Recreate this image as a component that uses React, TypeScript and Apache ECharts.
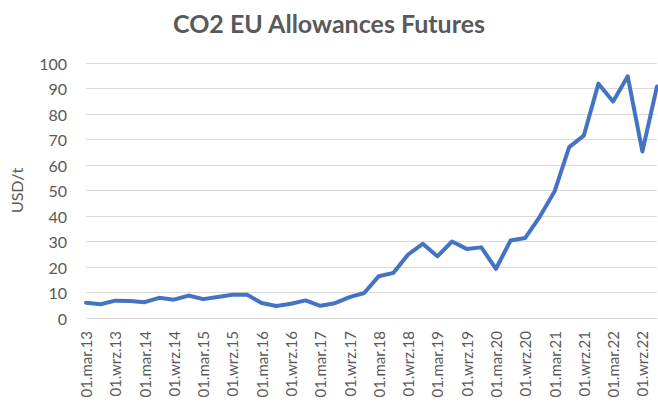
import React, { useEffect, useRef } from "react";
import * as echarts from "echarts";

const titleText = "CO2 EU Allowances Futures";
const yAxisName = "USD/t";
const years = ["13", "14", "15", "16", "17", "18", "19", "20", "21", "22"];
const months = ["mar", "cze", "wrz", "gru"];
const categories: string[] = years.flatMap((y) => months.map((m) => `01.${m}.${y}`));
const prices = [
  6.0, 5.4, 6.8, 6.7, 6.2, 7.9, 7.2, 8.8, 7.4, 8.2,
  9.1, 9.1, 5.9, 4.7, 5.6, 6.9, 4.8, 5.8, 8.2, 9.8,
  16.4, 17.7, 24.9, 29.1, 24.2, 30.0, 27.1, 27.7, 19.3, 30.4,
  31.4, 39.8, 49.6, 67.0, 71.5, 91.9, 84.9, 94.8, 65.3, 90.8,
];
const yMin = 0;
const yMax = 100;
const yStep = 10;

export default function App() {
  const ref = useRef<HTMLDivElement>(null);
  useEffect(() => {
    if (!ref.current) return;
    const chart = echarts.init(ref.current, undefined, { renderer: "svg" });
    const textColor = "#595959";
    const font = "Lato, 'Open Sans', sans-serif";
    chart.setOption({
      animation: false,
      backgroundColor: "#ffffff",
      title: {
        text: titleText,
        left: "center",
        top: 5,
        textStyle: { color: textColor, fontFamily: font, fontWeight: "bold", fontSize: 25 },
      },
      grid: { left: 72, right: 1, top: 63, bottom: 86, containLabel: false },
      xAxis: {
        type: "category",
        data: categories,
        boundaryGap: false,
        axisLine: { show: true, lineStyle: { color: "#d9d9d9", width: 1 } },
        axisTick: { show: false },
        axisLabel: {
          interval: 1,
          rotate: 90,
          margin: 13,
          color: textColor,
          fontFamily: font,
          fontSize: 15,
        },
        splitLine: { show: false },
      },
      yAxis: {
        type: "value",
        min: yMin,
        max: yMax,
        interval: yStep,
        name: yAxisName,
        nameLocation: "middle",
        nameRotate: 90,
        nameGap: 62,
        nameTextStyle: { color: textColor, fontFamily: font, fontSize: 16 },
        axisLine: { show: false },
        axisTick: { show: false },
        axisLabel: { margin: 19, color: textColor, fontFamily: font, fontSize: 16 },
        splitLine: { show: true, lineStyle: { color: "#d9d9d9", width: 1 } },
      },
      series: [
        {
          type: "line",
          data: prices,
          showSymbol: false,
          symbol: "none",
          lineStyle: { color: "#4472c4", width: 4, cap: "round", join: "round" },
        },
      ],
    });
    return () => chart.dispose();
  }, []);
  return (
    <div
      ref={ref}
      style={{ position: "fixed", left: 0, top: 0, width: 658, height: 404 }}
    />
  );
}
